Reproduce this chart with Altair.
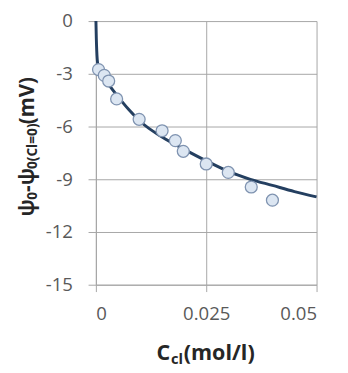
import altair as alt
import pandas as pd

conc = [0.0006, 0.0019, 0.0029, 0.0047, 0.0098, 0.0150, 0.0180, 0.0198, 0.0250, 0.0300, 0.0352, 0.0400]
psi = [-2.76, -3.09, -3.41, -4.43, -5.59, -6.24, -6.80, -7.41, -8.13, -8.61, -9.44, -10.19]

# fitted curve
fit_conc = [0.00001, 0.0001, 0.0002, 0.0004, 0.001, 0.002, 0.003, 0.005, 0.0075,
            0.01, 0.015, 0.02, 0.025, 0.03, 0.035, 0.04, 0.045, 0.05]
fit_psi = [0.0, -1.0, -1.7, -2.4, -2.9, -3.3, -3.65, -4.3, -5.05,
           -5.7, -6.6, -7.3, -7.95, -8.55, -9.0, -9.35, -9.7, -10.0]

x_ticks = [0, 0.025, 0.05]
y_ticks = [0, -3, -6, -9, -12, -15]

pts = pd.DataFrame({"c": conc, "p": psi})
fit = pd.DataFrame({"c": fit_conc, "p": fit_psi})

FONT = "Open Sans"
GRID = "#a6a6a6"
LABEL = "#595959"
TITLE = "#262626"

xscale = alt.Scale(domain=[0, 0.05], nice=False)
yscale = alt.Scale(domain=[-15, 0], nice=False)

xaxis = alt.Axis(values=x_ticks, labelExpr="toString(datum.value)", title=None,
                 grid=True, gridColor=GRID, domainColor=GRID, tickColor=GRID,
                 tickSize=7, labelFontSize=19, labelColor=LABEL, labelFont=FONT,
                 labelPadding=14)
yaxis = alt.Axis(values=y_ticks, labelExpr="toString(datum.value)", title=None,
                 grid=True, gridColor=GRID, domainColor=GRID, tickColor=GRID,
                 tickSize=8, labelFontSize=19, labelColor=LABEL, labelFont=FONT,
                 labelPadding=16)

line = alt.Chart(fit).mark_line(color="#243f60", strokeWidth=3, interpolate="monotone").encode(
    x=alt.X("c:Q", scale=xscale, axis=xaxis),
    y=alt.Y("p:Q", scale=yscale, axis=yaxis),
)
points = alt.Chart(pts).mark_point(shape="circle", filled=True, fill="#dce6f2", stroke="#7f93b0",
                                   strokeWidth=1.3, size=150, opacity=1).encode(
    x=alt.X("c:Q", scale=xscale),
    y=alt.Y("p:Q", scale=yscale),
)

def seg(text, size, x, y, angle=0):
    return alt.Chart(alt.InlineData(values=[{"t": text}])).mark_text(
        text=text, font=FONT, fontSize=size, fontWeight="bold", color=TITLE,
        align="left", baseline="alphabetic", angle=angle,
    ).encode(x=alt.value(x), y=alt.value(y))

# x title: C_cl(mol/l)
x_title = [
    seg("C", 22, 62, 347),
    seg("cl", 15, 77, 351),
    seg("(mol/l)", 22, 90, 347),
]
# y title: psi_0 - psi_0(Cl=0) (mV), rotated
y_title = [
    seg("ψ", 21, -63, 200, 270),
    seg("0", 14, -60, 183, 270),
    seg("-ψ", 21, -63, 175, 270),
    seg("0(Cl=0)", 14, -60, 151.5, 270),
    seg("(mV)", 21, -63, 105.7, 270),
]

chart = alt.layer(line, points, *x_title, *y_title).properties(
    width=226, height=270,
    autosize=alt.AutoSizeParams(type="none"),
    padding={"left": 90, "top": 9, "right": 24, "bottom": 86},
).configure_view(stroke=None)

chart.save("out.html", embed_options={"renderer": "svg", "actions": False})
